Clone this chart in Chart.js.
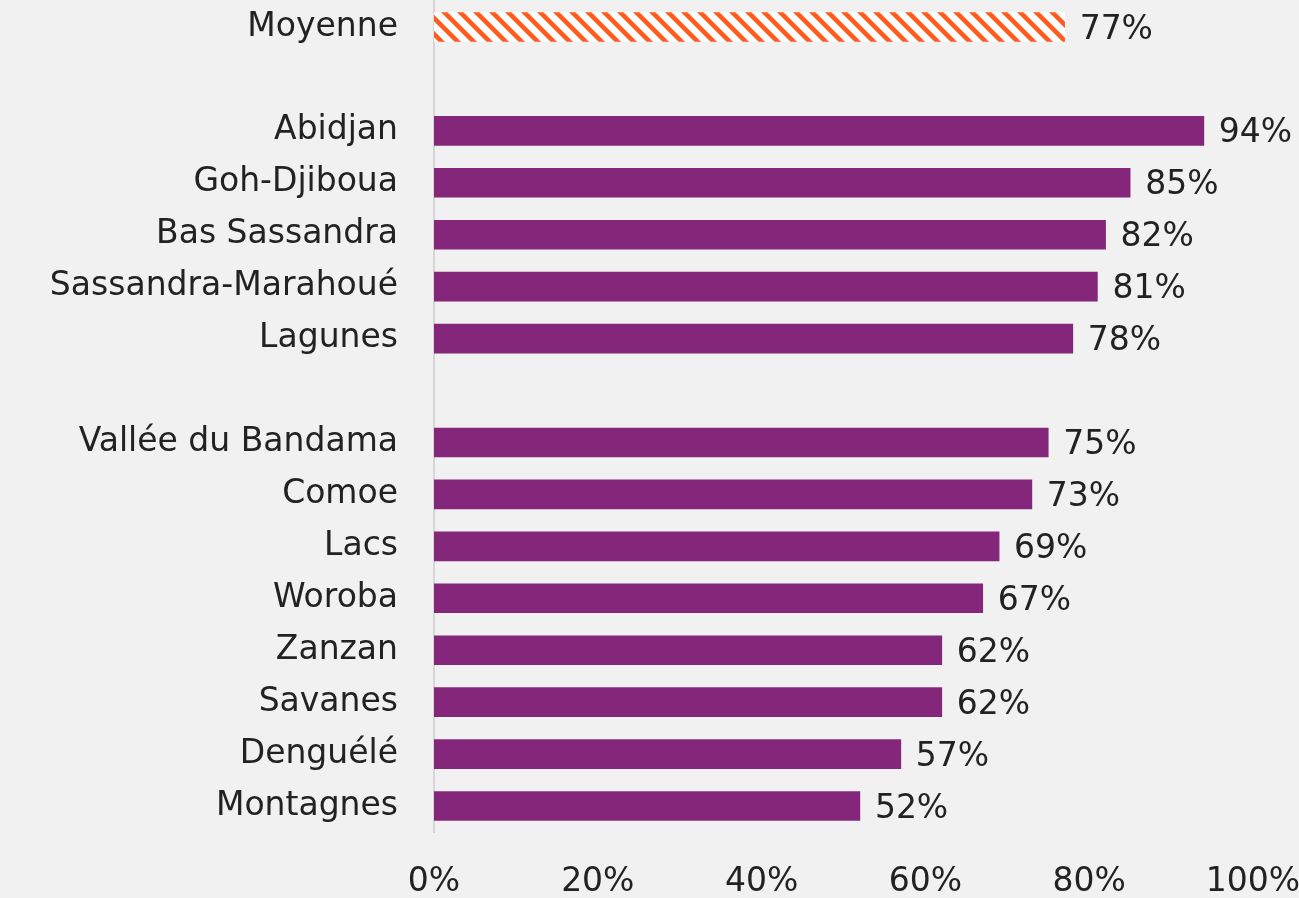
<!DOCTYPE html>
<html>
<head>
<meta charset="utf-8">
<script src="https://cdn.jsdelivr.net/npm/chart.js@4.4.1/dist/chart.umd.min.js"></script>
<style>
    html, body { margin: 0; padding: 0; background: #f1f1f1; }
    #wrap { width: 1299px; height: 898px; }
</style>
</head>
<body>
<div id="wrap"><canvas id="chart"></canvas></div>
<script>
// Taux par région (les libellés vides servent d'espacement)
const regions = ['Moyenne', '', 'Abidjan', 'Goh-Djiboua', 'Bas Sassandra', 'Sassandra-Marahoué', 'Lagunes', '',
    'Vallée du Bandama', 'Comoe', 'Lacs', 'Woroba', 'Zanzan', 'Savanes', 'Denguélé', 'Montagnes'];
const taux = [77, null, 94, 85, 82, 81, 78, null, 75, 73, 69, 67, 62, 62, 57, 52];
const xTicks = [0, 20, 40, 60, 80, 100];

const FONT = "'DejaVu Sans', sans-serif";
const FSIZE = 33;
const PURPLE = '#84277a';
const ORANGE = '#ff5a1f';

// motif hachuré pour la moyenne
function hatch() {
    const c = document.createElement('canvas');
    c.width = 16; c.height = 16;
    const g = c.getContext('2d');
    g.fillStyle = '#ffffff';
    g.fillRect(0, 0, 16, 16);
    g.strokeStyle = ORANGE;
    g.lineWidth = 4.5;
    g.beginPath();
    g.moveTo(-4, -4); g.lineTo(20, 20);
    g.moveTo(-4, 12); g.lineTo(4, 20);
    g.moveTo(12, -4); g.lineTo(20, 4);
    g.stroke();
    return g.createPattern(c, 'repeat');
}

// étiquettes de valeur à droite des barres
const valueLabels = {
    id: 'valueLabels',
    afterDatasetsDraw(chart) {
        const ctx = chart.ctx;
        const meta = chart.getDatasetMeta(0);
        ctx.save();
        ctx.font = FSIZE + 'px ' + FONT;
        ctx.fillStyle = '#222222';
        ctx.textAlign = 'left';
        ctx.textBaseline = 'middle';
        meta.data.forEach((bar, i) => {
            if (taux[i] === null) return;
            ctx.fillText(taux[i] + '%', bar.x + 15, bar.y + 3);
        });
        ctx.restore();
    }
};

new Chart(document.getElementById('chart'), {
    type: 'bar',
    data: {
        labels: regions,
        datasets: [{
            data: taux,
            backgroundColor: regions.map((r, i) => i === 0 ? hatch() : PURPLE),
            borderWidth: 0,
            barThickness: 29
        }]
    },
    options: {
        indexAxis: 'y',
        responsive: true,
        maintainAspectRatio: false,
        animation: false,
        layout: { padding: { top: 1, right: 46, bottom: 0, left: 0 } },
        plugins: {
            legend: { display: false },
            tooltip: { enabled: false }
        },
        scales: {
            x: {
                min: 0,
                max: 100,
                afterBuildTicks: (axis) => { axis.ticks = xTicks.map(v => ({ value: v })); },
                afterFit: (axis) => {
                    axis.height = 66;
                    axis.paddingLeft = 0;
                    axis.paddingRight = 0;
                },
                grid: { display: false, drawTicks: false },
                border: { display: false },
                ticks: {
                    padding: 31,
                    color: '#222222',
                    font: { family: FONT, size: FSIZE },
                    callback: (v) => v + '%'
                }
            },
            y: {
                afterFit: (axis) => {
                    axis.width = 434;
                    axis.paddingTop = 0;
                    axis.paddingBottom = 0;
                },
                grid: { display: false, drawTicks: false },
                border: { display: true, color: '#d6d6d6', width: 2 },
                ticks: {
                    padding: 36,
                    color: '#222222',
                    font: { family: FONT, size: FSIZE }
                }
            }
        }
    },
    plugins: [valueLabels]
});
</script>
</body>
</html>
